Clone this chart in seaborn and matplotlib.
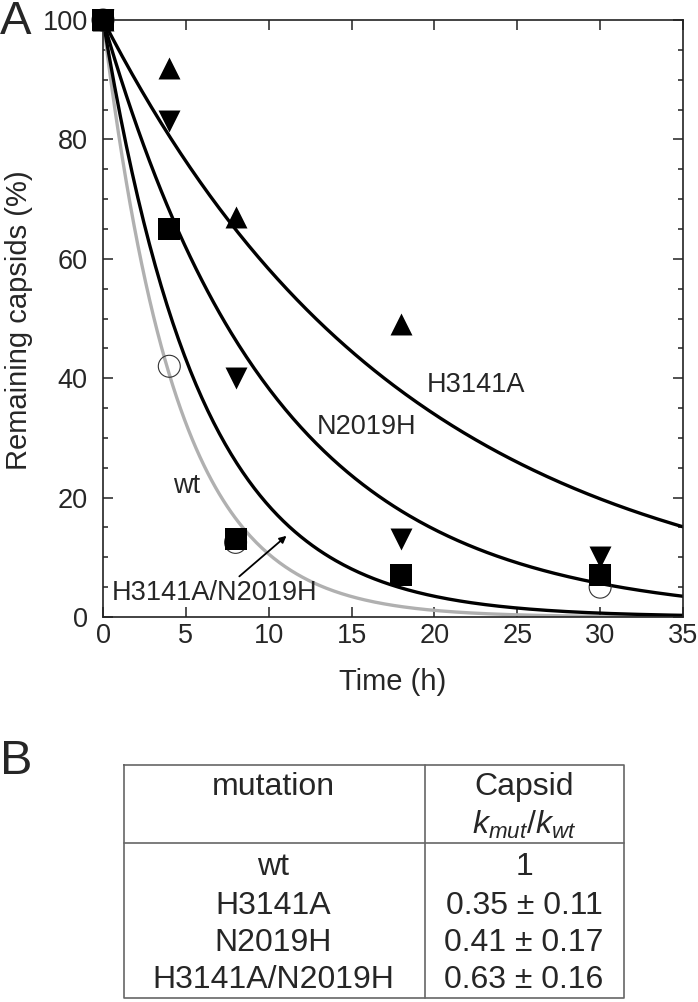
import numpy as np
import pandas as pd
import matplotlib
matplotlib.use("Agg")
import matplotlib.pyplot as plt
from matplotlib.ticker import MultipleLocator
import seaborn as sns

# ===================== data =====================
# measured time points (h)
time_points = [0, 4, 8, 18, 30]
wt_time = [0, 4, 8, 30]
wt_pct = [100, 42, 12.5, 5]
h3141a_time = [0, 4, 8, 18]
h3141a_pct = [100, 92, 67, 49]
n2019h_pct = [100, 83, 40, 13, 10]
double_pct = [100, 65, 13, 7, 7]

# first-order decay fits, rate constants (1/h)
fit_names = ["wt", "H3141A", "N2019H", "H3141A/N2019H"]
fit_k = [0.225, 0.054, 0.096, 0.168]
fit_colors = ["#b0b0b0", "black", "black", "black"]

# panel B table
table_mutations = ["wt", "H3141A", "N2019H", "H3141A/N2019H"]
table_ratios = ["1", "0.35 \u00b1 0.11", "0.41 \u00b1 0.17", "0.63 \u00b1 0.16"]

# ===================== style =====================
sns.set_theme(style="ticks")
plt.rcParams["font.family"] = ["Liberation Sans", "DejaVu Sans"]
plt.rcParams["mathtext.fontset"] = "custom"
plt.rcParams["mathtext.rm"] = "Liberation Sans"
plt.rcParams["mathtext.it"] = "Liberation Sans:italic"

W, H = 698, 1002
fig = plt.figure(figsize=(W / 100, H / 100), dpi=100)
ax = fig.add_axes([103 / W, 1 - 617 / H, 580 / W, 597 / H])

# fitted curves
t_grid = np.linspace(0, 35, 300)
curves = pd.concat(
    [pd.DataFrame({"t": t_grid, "pct": 100 * np.exp(-k * t_grid), "mutant": n})
     for n, k in zip(fit_names, fit_k)]
)
sns.lineplot(data=curves, x="t", y="pct", hue="mutant", hue_order=fit_names,
             palette=dict(zip(fit_names, fit_colors)), linewidth=2.4,
             legend=False, ax=ax, zorder=2)

# measured points
msize = 250
sns.scatterplot(x=wt_time, y=wt_pct, marker="o", s=msize, color="white",
                edgecolor="#333333", linewidth=0.8, ax=ax, zorder=3, clip_on=False)
ax.collections[-1].set_facecolor("none")
sns.scatterplot(x=h3141a_time, y=h3141a_pct, marker="^", s=msize, color="black",
                linewidth=0, ax=ax, zorder=4, clip_on=False)
sns.scatterplot(x=time_points, y=n2019h_pct, marker="v", s=msize, color="black",
                linewidth=0, ax=ax, zorder=4, clip_on=False)
sns.scatterplot(x=time_points, y=double_pct, marker="s", s=msize, color="black",
                linewidth=0, ax=ax, zorder=5, clip_on=False)

# curve labels
ax.text(19.55, 38.9, "H3141A", fontsize=19.5, va="center", ha="left")
ax.text(12.9, 31.8, "N2019H", fontsize=19.5, va="center", ha="left")
ax.text(4.2, 22, "wt", fontsize=19.5, va="center", ha="left")
ax.text(0.55, 4, "H3141A/N2019H", fontsize=19.5, va="center", ha="left")
ax.annotate("", xy=(11.2, 13.9), xytext=(8.1, 6.5),
            arrowprops=dict(arrowstyle="-|>", lw=1.3, color="black", mutation_scale=10))

# axes
ax.set_xlim(0, 35)
ax.set_ylim(0, 100)
ax.set_xticks(range(0, 36, 5))
ax.set_yticks(range(0, 101, 20))
ax.yaxis.set_minor_locator(MultipleLocator(5))
ax.tick_params(which="major", direction="in", top=True, right=True,
               length=7, width=1.1, labelsize=19.5, color="#222222")
ax.tick_params(which="minor", direction="in", left=True, right=True,
               length=3.5, width=1.1, color="#222222")
ax.tick_params(axis="y", pad=11)
ax.tick_params(axis="x", pad=4)
for s in ax.spines.values():
    s.set_linewidth(1.2)
    s.set_color("#222222")
ax.set_xlabel("Time (h)", fontsize=21)
ax.set_ylabel("Remaining capsids (%)", fontsize=21)
ax.xaxis.set_label_coords(0.5, -0.0854)
ax.yaxis.set_label_coords(-0.121, 0.497)

fig.text(0.0, 1.0, "A", fontsize=34, va="top", ha="left")
fig.text(0.0, 1 - 739 / H, "B", fontsize=35, va="top", ha="left")

# ===================== panel B table =====================
tl, tr, tt, tb = 124, 624, 765, 998
ax_t = fig.add_axes([tl / W, 1 - tb / H, (tr - tl) / W, (tb - tt) / H])
ax_t.set_xlim(0, tr - tl)
ax_t.set_ylim(tb - tt, 0)
ax_t.axis("off")
line_kw = dict(color="#666666", lw=1.2, clip_on=False)
ax_t.plot([0, tr - tl, tr - tl, 0, 0], [0, 0, tb - tt, tb - tt, 0], **line_kw)
ax_t.plot([0, tr - tl], [78, 78], **line_kw)
ax_t.plot([301, 301], [0, tb - tt], **line_kw)

col1, col2 = 149, 400
fs_t = 23
ax_t.text(col1, 22, "mutation", fontsize=fs_t, ha="center", va="center")
ax_t.text(col2, 22, "Capsid", fontsize=fs_t, ha="center", va="center")
ax_t.text(col2, 60, r"$k_{mut}/k_{wt}$", fontsize=fs_t, ha="center", va="center")
row_y = [102, 141, 178, 215]
for y, m, r in zip(row_y, table_mutations, table_ratios):
    ax_t.text(col1, y, m, fontsize=fs_t, ha="center", va="center")
    ax_t.text(col2, y, r, fontsize=fs_t, ha="center", va="center")

fig.savefig("out.png", dpi=100)
